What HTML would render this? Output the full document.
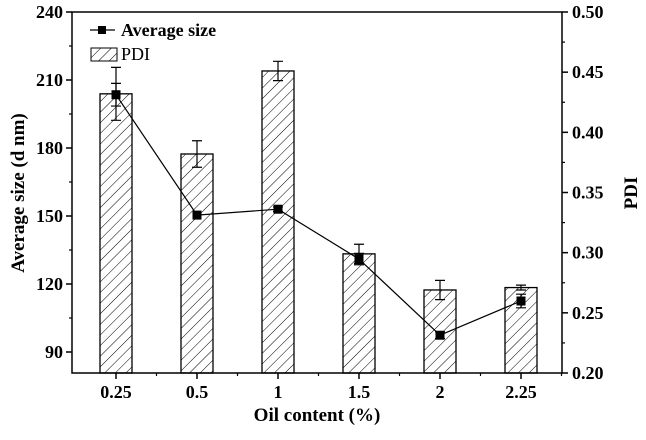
<!DOCTYPE html>
<html><head><meta charset="utf-8"><style>
body{margin:0;background:#fff}
svg text{font-family:"Liberation Serif",serif;font-weight:bold;fill:#000}
</style></head><body>
<svg id="chart" width="646" height="435" xmlns="http://www.w3.org/2000/svg">
<defs><pattern id="hatch" patternUnits="userSpaceOnUse" width="7.5" height="7.5" patternTransform="rotate(45)"><line x1="0" y1="0" x2="0" y2="7.5" stroke="#000" stroke-width="1"/></pattern></defs>
<g id="g"></g>
</svg>
<script>
const categories=["0.25","0.5","1","1.5","2","2.25"];
const pdiValues=[0.432,0.382,0.451,0.299,0.269,0.271];
const pdiErrors=[0.022,0.011,0.008,0.008,0.008,0.002];
const sizeValues=[203.5,150.4,153,131,97.4,112.5];
const sizeErrors=[5,0,1,2.5,1.5,3];
const leftTicks=[90,120,150,180,210,240];
const rightTicks=[0.20,0.25,0.30,0.35,0.40,0.45,0.50];
const L=72,R=562,T=12,B=373;
const yL=v=>T+(240-v)*68/30;
const yR=v=>B-(v-0.2)*(B-T)/0.3;
const xC=i=>116+i*81;
const NS="http://www.w3.org/2000/svg";
const g=document.getElementById('g');
function el(t,a,txt){const e=document.createElementNS(NS,t);for(const k in a)e.setAttribute(k,a[k]);if(txt!==undefined)e.textContent=txt;g.appendChild(e);return e;}
pdiValues.forEach((v,i)=>{
 const b=el('rect',{x:xC(i)-16,y:yR(v),width:32,height:B-yR(v),fill:'url(#hatch)',stroke:'#000','stroke-width':1.3});
 
 
 const e=pdiErrors[i];
 const eb=el('path',{d:`M${xC(i)} ${yR(v+e)}V${yR(v-e)}M${xC(i)-5} ${yR(v+e)}h10M${xC(i)-5} ${yR(v-e)}h10`,stroke:'#000','stroke-width':1.2,fill:'none'});
 
 
});
const ln=el('polyline',{points:sizeValues.map((v,i)=>xC(i)+','+yL(v)).join(' '),fill:'none',stroke:'#000','stroke-width':1.2});


sizeValues.forEach((v,i)=>{
 const e=sizeErrors[i];
 if(e>0){const eb=el('path',{d:`M${xC(i)} ${yL(v+e)}V${yL(v-e)}M${xC(i)-5} ${yL(v+e)}h10M${xC(i)-5} ${yL(v-e)}h10`,stroke:'#000','stroke-width':1.2,fill:'none'});
 
 }
 const m=el('rect',{x:xC(i)-4.5,y:yL(v)-4.5,width:9,height:9,fill:'#000'});
 
 
});
const ax=el('path',{d:`M${L} ${T}H${R}V${B}H${L}Z`,fill:'none',stroke:'#000','stroke-width':1.5});


leftTicks.forEach(v=>{
 el('line',{x1:L-6,x2:L,y1:yL(v),y2:yL(v),stroke:'#000','stroke-width':1.5});
 if(yL(v-15)<B)el('line',{x1:L-3,x2:L,y1:yL(v-15),y2:yL(v-15),stroke:'#000','stroke-width':1.2});
 const t=el('text',{x:L-9,y:yL(v)+6,'text-anchor':'end','font-size':18},String(v));
 
 
});
rightTicks.forEach((v,i)=>{
 el('line',{x1:R,x2:R+6,y1:yR(v),y2:yR(v),stroke:'#000','stroke-width':1.5});
 if(i<rightTicks.length-1)el('line',{x1:R,x2:R+3,y1:yR(v+0.025),y2:yR(v+0.025),stroke:'#000','stroke-width':1.2});
 const t=el('text',{x:R+10,y:yR(v)+6,'font-size':18},v.toFixed(2));
 
 
});
categories.forEach((c,i)=>{
 el('line',{x1:xC(i),x2:xC(i),y1:B,y2:B+6,stroke:'#000','stroke-width':1.5});
 el('line',{x1:xC(i)+40.5,x2:xC(i)+40.5,y1:B,y2:B+3,stroke:'#000','stroke-width':1.2});
 const t=el('text',{x:xC(i),y:B+25,'text-anchor':'middle','font-size':18},c);
 
 
});
</script>
<svg style="position:absolute;left:0;top:0" width="646" height="435" xmlns="http://www.w3.org/2000/svg">
<text x="317" y="421" text-anchor="middle" font-size="19">Oil content (%)</text>
<text transform="translate(24,193) rotate(-90)" text-anchor="middle" font-size="19">Average size (d nm)</text>
<text transform="translate(637,193) rotate(-90)" text-anchor="middle" font-size="19">PDI</text>
<g>
<line x1="90" y1="30" x2="115" y2="30" stroke="#000" stroke-width="1.2"/>
<rect x="98" y="26" width="8" height="8" fill="#000"/>
<text x="121" y="36" font-size="18">Average size</text>
<rect x="91" y="48" width="26" height="13" fill="url(#hatch)" stroke="#000" stroke-width="1"/>
<text x="121" y="60" font-size="18" style="font-weight:normal">PDI</text>
</g>
</svg>
</body></html>
